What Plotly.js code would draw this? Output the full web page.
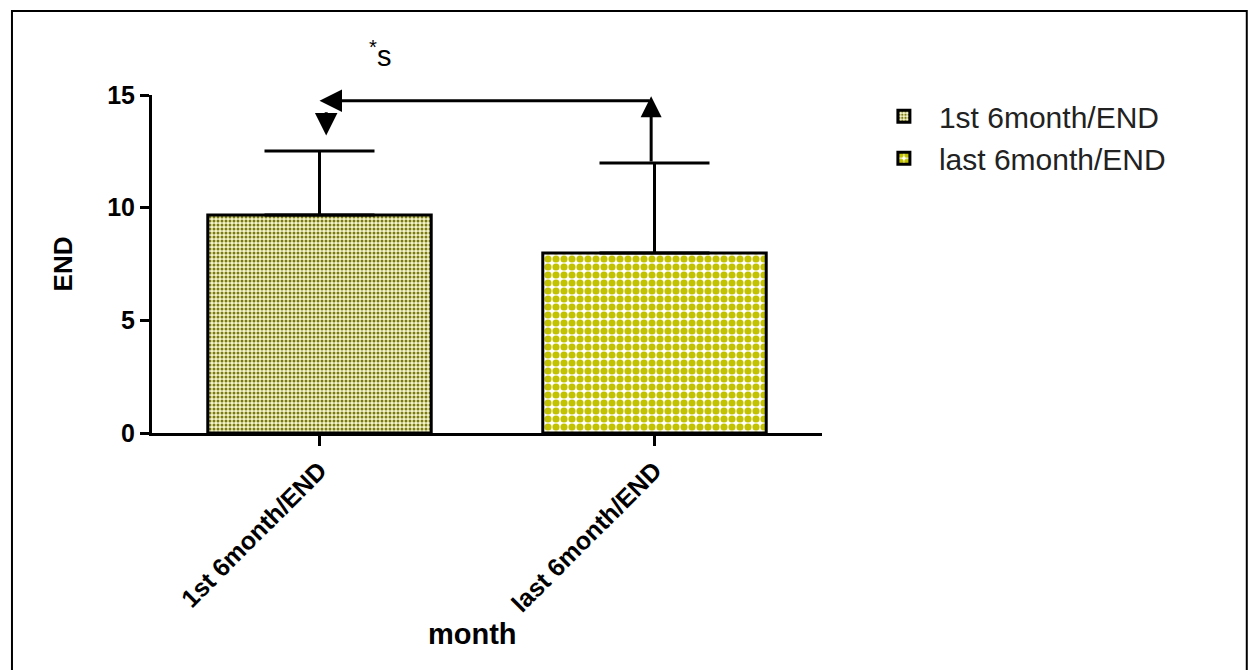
<!DOCTYPE html>
<html>
<head>
<meta charset="utf-8">
<script src="https://cdn.plot.ly/plotly-3.0.1.min.js"></script>
<style>
  html, body { margin: 0; padding: 0; background: #fff; }
  #chart { width: 1249px; height: 670px; }
</style>
</head>
<body>
<div id="chart"></div>
<script>
// ---- data ----
const categories = ['1st 6month/END', 'last 6month/END'];
const seriesNames = ['1st 6month/END', 'last 6month/END'];
const means = [9.68, 7.99];
const errUpper = [2.84, 3.99];
const yTickVals = [0, 5, 10, 15];
const yTickText = ['0', '5', '10', '15'];
const xTitle = 'month';
const yTitle = 'END';
const sigLabel = '<sup>*</sup>s';
const sigLevel = 14.75;

const fgColors = ['#7a7a12', '#c2c200'];
const bgColors = ['#f4f4cc', '#ffffff'];
const patSizes = [4, 8];
const patSolid = [0.45, 0.62];

const traces = categories.map((c, i) => ({
  type: 'bar',
  name: seriesNames[i],
  x: [c],
  y: [means[i]],
  width: 0.667,
  marker: {
    color: bgColors[i],
    line: { color: '#000', width: 3 },
    pattern: { shape: '.', fgcolor: fgColors[i], bgcolor: bgColors[i], size: patSizes[i], solidity: patSolid[i], fillmode: 'replace' }
  },
  error_y: {
    type: 'data', symmetric: false,
    array: [errUpper[i]], arrayminus: [0],
    color: '#000', thickness: 3, width: 55
  }
}));

const fam = 'Liberation Sans, Arial, sans-serif';
const boldFont = (s) => ({ family: fam, weight: 'bold', color: '#000', size: s });

const layout = {
  width: 1249, height: 670,
  margin: { l: 152, r: 427, t: 95, b: 237 },
  paper_bgcolor: '#fff', plot_bgcolor: '#fff',
  barmode: 'overlay',
  showlegend: true,
  legend: {
    x: 1.07, y: 1.014, xanchor: 'left', yanchor: 'top',
    font: { family: fam, size: 30, color: '#222' },
    bgcolor: 'rgba(0,0,0,0)', tracegroupgap: 2, itemwidth: 60
  },
  xaxis: {
    type: 'category', range: [-0.5, 1.5],
    showline: true, linecolor: '#000', linewidth: 3,
    ticks: 'outside', ticklen: 10, tickwidth: 3, tickcolor: '#000',
    tickangle: -45,
    tickfont: boldFont(25),
    showgrid: false, zeroline: false, fixedrange: true
  },
  yaxis: {
    range: [0, 15], tickvals: yTickVals, ticktext: yTickText,
    showline: true, linecolor: '#000', linewidth: 3,
    ticks: 'outside', ticklen: 9, tickwidth: 3, tickcolor: '#000',
    tickfont: boldFont(25),
    showgrid: false, zeroline: false, fixedrange: true,
    title: { text: yTitle, font: boldFont(26), standoff: 28 }
  },
  annotations: [
    { xref: 'x', yref: 'y', axref: 'x', ayref: 'y', x: 0.99, y: 14.95, ax: 0.99, ay: means[1] + errUpper[1],
      text: '', showarrow: true, arrowhead: 2, arrowsize: 1.4, arrowwidth: 3, arrowcolor: '#000' },
    { xref: 'x', yref: 'y', axref: 'x', ayref: 'y', x: 0.0, y: sigLevel, ax: 0.99, ay: sigLevel,
      text: '', showarrow: true, arrowhead: 2, arrowsize: 1.5, arrowwidth: 3, arrowcolor: '#000' },
    { xref: 'x', yref: 'y', axref: 'x', ayref: 'y', x: 0.02, y: 13.2, ax: 0.02, ay: 14.3,
      text: '', showarrow: true, arrowhead: 2, arrowsize: 1.5, arrowwidth: 3, arrowcolor: '#000' },
    { xref: 'paper', yref: 'paper', x: 0.340, y: 1.12, xanchor: 'center', yanchor: 'middle',
      text: sigLabel, showarrow: false, font: { family: fam, size: 29, color: '#000' } },
    { xref: 'paper', yref: 'paper', x: 0.479, y: -0.595, xanchor: 'center', yanchor: 'middle',
      text: xTitle, showarrow: false, font: boldFont(29) }
  ],
  shapes: [
    { type: 'rect', xref: 'paper', yref: 'paper', x0: -0.209, x1: 1.634, y0: -0.72, y1: 1.2485,
      line: { color: '#000', width: 2 }, fillcolor: 'rgba(0,0,0,0)', layer: 'below' }
  ]
};

Plotly.newPlot('chart', traces, layout, { displayModeBar: false, staticPlot: true });
</script>
</body>
</html>
